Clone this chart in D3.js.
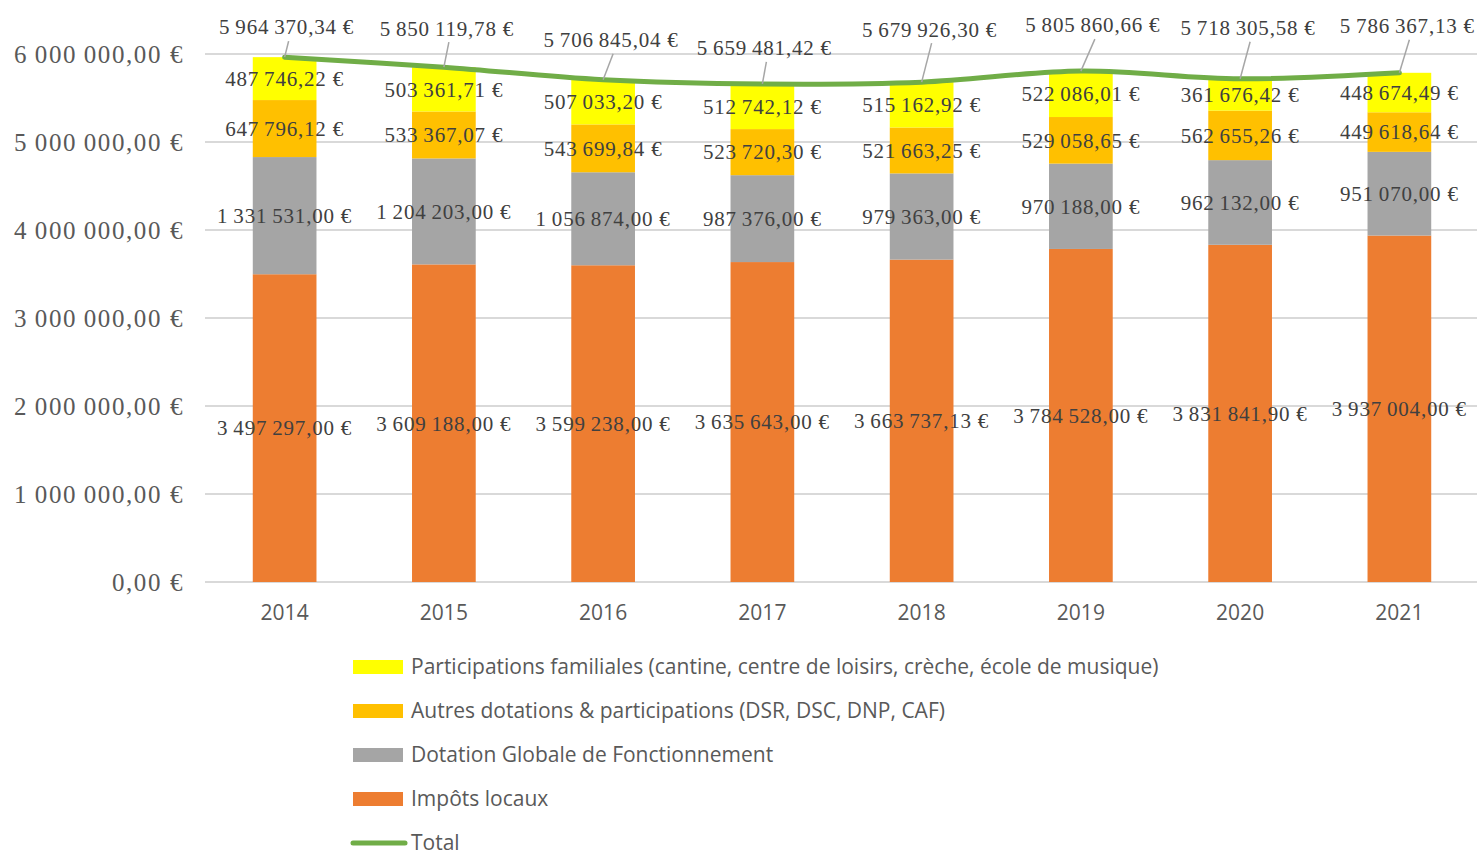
<!DOCTYPE html>
<html>
<head>
<meta charset="utf-8">
<script src="https://cdn.jsdelivr.net/npm/d3@7"></script>
<style>
  body { margin: 0; background: #fff; }
  svg text { fill: #404040; }
</style>
</head>
<body>
<div id="container"></div>
<script>
// années
const years = ["2014", "2015", "2016", "2017", "2018", "2019", "2020", "2021"];

// séries (du bas vers le haut de la pile)
const impots = [3497297.00, 3609188.00, 3599238.00, 3635643.00, 3663737.13, 3784528.00, 3831841.90, 3937004.00];
const dgf = [1331531.00, 1204203.00, 1056874.00, 987376.00, 979363.00, 970188.00, 962132.00, 951070.00];
const autres = [647796.12, 533367.07, 543699.84, 523720.30, 521663.25, 529058.65, 562655.26, 449618.64];
const familles = [487746.22, 503361.71, 507033.20, 512742.12, 515162.92, 522086.01, 361676.42, 448674.49];
const totals = [5964370.34, 5850119.78, 5706845.04, 5659481.42, 5679926.30, 5805860.66, 5718305.58, 5786367.13];

const yTicks = [0, 1000000, 2000000, 3000000, 4000000, 5000000, 6000000];

const seriesNames = [
    "Impôts locaux",
    "Dotation Globale de Fonctionnement",
    "Autres dotations & participations (DSR, DSC, DNP, CAF)",
    "Participations familiales (cantine, centre de loisirs, crèche, école de musique)"
];
const seriesColors = ["#ED7D31", "#A5A5A5", "#FFC000", "#FFFF00"];
const totalColor = "#70AD47";

// décalage des étiquettes "Total" (déplacées à la main dans l'original)
const totalLabelOffsets = [[2, -30], [3, -39], [8, -40], [2, -36], [8, -53], [12, -46], [8, -51], [8, -47]];

const W = 1477, H = 855;
const margin = {left: 205, right: -2, top: 54, bottom: 273};

const svg = d3.select("#container")
    .append("svg")
    .attr("width", W)
    .attr("height", H);

const x = d3.scaleBand()
    .domain(years)
    .range([margin.left, W - margin.right])
    .paddingInner(0.6)
    .paddingOuter(0.3);

const y = d3.scaleLinear()
    .domain([0, 6000000])
    .range([H - margin.bottom, margin.top]);

// format français
const fr = d3.formatLocale({decimal: ",", thousands: "\u2009", grouping: [3], currency: ["", "\u00a0€"]});
const fmt = v => fr.format(",.2f")(v) + "\u00a0€";

// grille
svg.append("g")
    .selectAll("line")
    .data(yTicks)
    .join("line")
    .attr("x1", margin.left)
    .attr("x2", W)
    .attr("y1", d => y(d))
    .attr("y2", d => y(d))
    .attr("stroke", "#D9D9D9")
    .attr("stroke-width", 2);

// axe Y
const yAxis = svg.append("g")
    .attr("transform", `translate(${margin.left - 18},0)`)
    .call(d3.axisLeft(y).tickValues(yTicks).tickSize(0).tickFormat(fmt));
yAxis.select(".domain").remove();
yAxis.selectAll("text")
    .attr("font-family", "'Liberation Serif', serif")
    .attr("font-size", 25)
    .attr("letter-spacing", 1.6)
    .attr("dy", "0.32em")
    .style("fill", "#595959");

// axe X
const xAxis = svg.append("g")
    .attr("transform", `translate(0,${y(0)})`)
    .call(d3.axisBottom(x).tickSize(0));
xAxis.select(".domain").remove();
xAxis.selectAll("text")
    .attr("font-family", "'Open Sans', sans-serif")
    .attr("font-size", 21)
    .attr("dy", "1.65em")
    .style("fill", "#595959");

// pile
const table = years.map((yr, i) => ({
    year: yr, s0: impots[i], s1: dgf[i], s2: autres[i], s3: familles[i]
}));
const stack = d3.stack().keys(["s0", "s1", "s2", "s3"]);
const layers = stack(table);

const gLayers = svg.append("g")
    .selectAll("g")
    .data(layers)
    .join("g")
    .attr("fill", (d, i) => seriesColors[i]);

gLayers.selectAll("rect")
    .data(d => d)
    .join("rect")
    .attr("x", d => x(d.data.year))
    .attr("width", x.bandwidth())
    .attr("y", d => y(d[1]))
    .attr("height", d => y(d[0]) - y(d[1]));

// ligne total
const line = d3.line()
    .x((d, i) => x(years[i]) + x.bandwidth() / 2)
    .y(d => y(d))
    .curve(d3.curveCatmullRom.alpha(0.5));

svg.append("path")
    .datum(totals)
    .attr("d", line)
    .attr("fill", "none")
    .attr("stroke", totalColor)
    .attr("stroke-width", 5)
    .attr("stroke-linecap", "round");

// étiquettes des segments
const labelFont = "'Liberation Serif', serif";
layers.forEach((layer, li) => {
    svg.append("g")
        .selectAll("text")
        .data(layer)
        .join("text")
        .attr("x", d => x(d.data.year) + x.bandwidth() / 2)
        .attr("y", d => y((d[0] + d[1]) / 2))
        .attr("dy", "0.35em")
        .attr("text-anchor", "middle")
        .attr("font-family", labelFont)
        .attr("font-size", 21)
        .attr("letter-spacing", 0.8)
        .text(d => fmt(d[1] - d[0]));
});

// étiquettes du total + lignes de repère
const gTot = svg.append("g");
totals.forEach((t, i) => {
    const px = x(years[i]) + x.bandwidth() / 2;
    const py = y(t);
    const lx = px + totalLabelOffsets[i][0];
    const ly = py + totalLabelOffsets[i][1];
    gTot.append("line")
        .attr("x1", px)
        .attr("y1", py)
        .attr("x2", lx + 2)
        .attr("y2", ly + 14)
        .attr("stroke", "#A6A6A6")
        .attr("stroke-width", 1.5);
    gTot.append("text")
        .attr("x", lx)
        .attr("y", ly)
        .attr("dy", "0.35em")
        .attr("text-anchor", "middle")
        .attr("font-family", labelFont)
        .attr("font-size", 21)
        .attr("letter-spacing", 0.8)
        .text(fmt(t));
});

// légende
const legendItems = [
    {name: seriesNames[3], color: seriesColors[3], type: "rect"},
    {name: seriesNames[2], color: seriesColors[2], type: "rect"},
    {name: seriesNames[1], color: seriesColors[1], type: "rect"},
    {name: seriesNames[0], color: seriesColors[0], type: "rect"},
    {name: "Total", color: totalColor, type: "line"}
];

const legend = svg.append("g")
    .attr("transform", "translate(353,667)");

const li = legend.selectAll("g")
    .data(legendItems)
    .join("g")
    .attr("transform", (d, i) => `translate(0,${i * 44})`);

li.filter(d => d.type === "rect")
    .append("rect")
    .attr("x", 0)
    .attr("y", -7)
    .attr("width", 50)
    .attr("height", 14)
    .attr("fill", d => d.color);

li.filter(d => d.type === "line")
    .append("line")
    .attr("x1", 0)
    .attr("x2", 52)
    .attr("y1", 0)
    .attr("y2", 0)
    .attr("stroke", d => d.color)
    .attr("stroke-width", 5)
    .attr("stroke-linecap", "round");

li.append("text")
    .attr("x", 58)
    .attr("y", 0)
    .attr("dy", "0.35em")
    .attr("font-family", "'Open Sans', sans-serif")
    .attr("font-size", 21)
    .style("fill", "#595959")
    .text(d => d.name);
</script>
</body>
</html>
